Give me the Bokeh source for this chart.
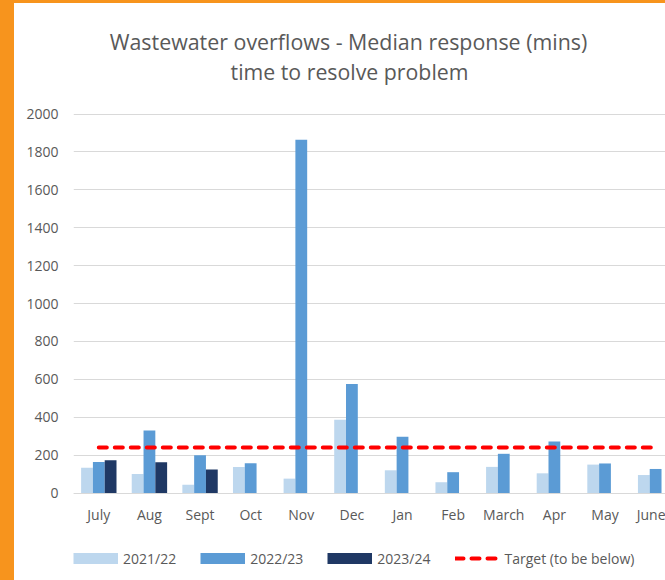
from bokeh.plotting import figure
from bokeh.models import (Range1d, FixedTicker, Label, Legend, LegendItem,
                          ColumnDataSource)
from bokeh.transform import dodge
from bokeh.embed import file_html
from bokeh.resources import INLINE

# ---- data ----
months = ["July", "Aug", "Sept", "Oct", "Nov", "Dec", "Jan", "Feb", "March", "Apr", "May", "June"]
fy2122 = [133, 100, 44, 138, 76, 387, 120, 57, 138, 104, 150, 95]
fy2223 = [164, 330, 200, 157, 1865, 575, 297, 110, 207, 272, 156, 127]
fy2324 = [173, 163, 124]
target = [240] * 12
y_ticks = list(range(0, 2001, 200))
series_labels = ["2021/22", "2022/23", "2023/24", "Target (to be below)"]
title_lines = ["Wastewater overflows - Median response (mins)", "time to resolve problem"]

FONT = "Open Sans"
GREY = "#595959"
C1, C2, C3 = "#BDD7EE", "#5B9BD5", "#1F3864"
RED = "#FF0000"
ORANGE = "#F7941D"
BORDER_L, BORDER_T = 14, 3

# layout (canvas pixels, inside the orange border)
W, H = 651, 577
FRAME_LEFT = 59
ZERO_PX, TOP_PX = 487, 110          # canvas y of value 0 and of value 2000
px_per_unit = (ZERO_PX - TOP_PX) / 2000.0
cat_px = 49.45
y_start = -(H - ZERO_PX) / px_per_unit
y_end = 2000 + TOP_PX / px_per_unit
x_end = -0.5 + (W - FRAME_LEFT) / cat_px

idx = list(range(len(months)))
src = ColumnDataSource(dict(x=idx, a=fy2122, b=fy2223))
src3 = ColumnDataSource(dict(x=idx[:len(fy2324)], c=fy2324))

p = figure(width=W + BORDER_L, height=H + BORDER_T, output_backend="svg",
           toolbar_location=None,
           x_range=Range1d(-0.5, x_end), y_range=Range1d(y_start, y_end),
           min_border_left=FRAME_LEFT, min_border_right=0, min_border_top=0,
           min_border_bottom=0, title=None)
p.styles = {"border-left": f"{BORDER_L}px solid {ORANGE}",
            "border-top": f"{BORDER_T}px solid {ORANGE}",
            "box-sizing": "border-box"}
p.outline_line_color = None
p.background_fill_color = "white"
p.border_fill_color = "white"

bw = 0.233
r1 = p.vbar(x=dodge("x", -bw), top="a", width=bw, source=src, fill_color=C1, line_color=None)
r2 = p.vbar(x="x", top="b", width=bw, source=src, fill_color=C2, line_color=None)
r3 = p.vbar(x=dodge("x", bw), top="c", width=bw, source=src3, fill_color=C3, line_color=None)
r4 = p.line(idx, target, line_color=RED, line_width=4, line_dash="8 8", line_cap="round")

# legend swatches: invisible proxies (one NaN point) so the swatch fills the glyph box
nan = float("nan")
k1 = p.line(x=[nan], y=[nan], line_color=C1, line_width=11)
k2 = p.line(x=[nan], y=[nan], line_color=C2, line_width=11)
k3 = p.line(x=[nan], y=[nan], line_color=C3, line_width=11)

# axes
p.xaxis.fixed_location = 0
p.xaxis.ticker = FixedTicker(ticks=idx)
p.xaxis.major_label_overrides = {i: m for i, m in zip(idx, months)}
p.xaxis.axis_line_color = "#D9D9D9"
p.xaxis.major_tick_line_color = None
p.xaxis.minor_tick_line_color = None
p.xaxis.major_label_standoff = 6
p.xaxis.major_label_text_font = FONT
p.xaxis.major_label_text_font_size = "14px"
p.xaxis.major_label_text_color = GREY

p.yaxis.ticker = FixedTicker(ticks=y_ticks)
p.yaxis.axis_line_color = None
p.yaxis.major_tick_line_color = None
p.yaxis.minor_tick_line_color = None
p.yaxis.major_label_standoff = 9
p.yaxis.major_label_text_font = FONT
p.yaxis.major_label_text_font_size = "14px"
p.yaxis.major_label_text_color = GREY

p.xgrid.grid_line_color = None
p.ygrid.ticker = FixedTicker(ticks=y_ticks)
p.ygrid.grid_line_color = "#D9D9D9"
p.ygrid.grid_line_width = 1

# legend (inside the extended frame, under the month labels)
legend = Legend(items=[LegendItem(label=series_labels[0], renderers=[k1]),
                       LegendItem(label=series_labels[1], renderers=[k2]),
                       LegendItem(label=series_labels[2], renderers=[k3]),
                       LegendItem(label=series_labels[3], renderers=[r4])],
                orientation="horizontal", location=(0, 15.5),
                glyph_width=45, glyph_height=12, label_standoff=5, spacing=24,
                padding=0, margin=0, border_line_color=None,
                background_fill_alpha=0,
                label_text_font=FONT, label_text_font_size="14px",
                label_text_color=GREY)
p.add_layout(legend)

# title: two centred lines
for t, xx, yy, fs in zip(title_lines, [320, 321], [35, 65], ["21.4px", "21.3px"]):
    p.add_layout(Label(x=xx, y=yy, x_units="canvas", y_units="canvas", text=t,
                       text_align="center", text_baseline="alphabetic",
                       text_font=FONT, text_font_size=fs, text_color=GREY))

open("out.html", "w").write(file_html(p, INLINE))
